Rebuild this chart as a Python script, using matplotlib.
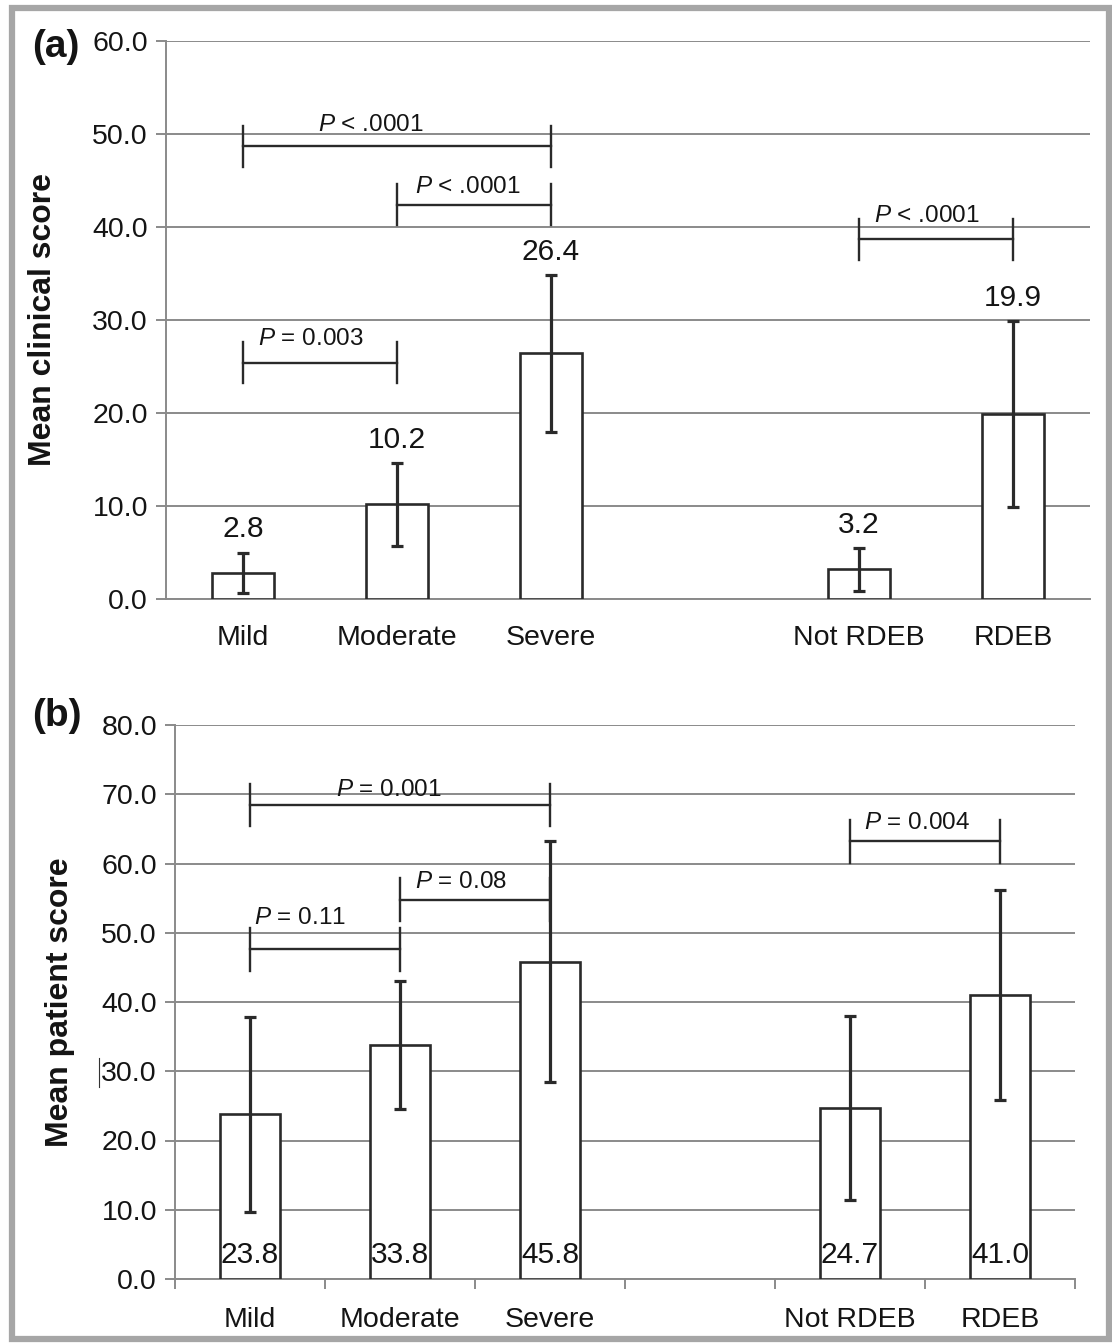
import matplotlib
matplotlib.use("Agg")
import matplotlib.pyplot as plt
from matplotlib.patches import Rectangle
from matplotlib.lines import Line2D

plt.rcParams['font.family'] = ['Liberation Sans', 'DejaVu Sans']
plt.rcParams['mathtext.fontset'] = 'custom'
plt.rcParams['mathtext.it'] = 'Liberation Sans:italic'
plt.rcParams['mathtext.rm'] = 'Liberation Sans'

# categories (slot 3 is an empty gap)
groups = ['Mild', 'Moderate', 'Severe', 'Not RDEB', 'RDEB']
slots = [0, 1, 2, 4, 5]

# (a) clinical score
clinical_means = [2.8, 10.2, 26.4, 3.2, 19.9]
clinical_err = [2.2, 4.45, 8.45, 2.3, 10.0]
clinical_pairs = [(0, 2), (1, 2), (0, 1), (3, 4)]
clinical_levels = [48.7, 42.4, 25.4, 38.7]
clinical_pvals = ['$P$ < .0001', '$P$ < .0001', '$P$ = 0.003', '$P$ < .0001']

# (b) patient score
patient_means = [23.8, 33.8, 45.8, 24.7, 41.0]
patient_err = [14.1, 9.2, 17.4, 13.3, 15.2]
patient_pairs = [(0, 2), (1, 2), (0, 1), (3, 4)]
patient_levels = [68.45, 54.8, 47.6, 63.2]
patient_pvals = ['$P$ = 0.001', '$P$ = 0.08', '$P$ = 0.11', '$P$ = 0.004']

DARK = '#2a2a2a'
GRID = '#8a8a8a'
W, H = 1112, 1343


def style_axes(ax, ymax, xticks_marks, xpad):
    ax.set_xlim(-0.5, 5.5)
    ax.set_ylim(0, ymax)
    ax.set_yticks(range(0, ymax + 1, 10))
    ax.set_yticklabels(['%.1f' % v for v in range(0, ymax + 1, 10)])
    ax.set_axisbelow(True)
    ax.yaxis.grid(True, color=GRID, lw=1.4)
    for s in ['top', 'right']:
        ax.spines[s].set_visible(False)
    ax.spines['left'].set_color(GRID)
    ax.spines['bottom'].set_color(GRID)
    ax.spines['left'].set_linewidth(1.4)
    ax.spines['bottom'].set_linewidth(1.4)
    ax.tick_params(axis='y', length=7, width=1.4, color=GRID, labelsize=20.5,
                   pad=6, labelcolor='#141414')
    ax.set_xticks(slots)
    ax.set_xticklabels(groups)
    ax.tick_params(axis='x', length=0, labelsize=20.5, pad=xpad, labelcolor='#141414')
    if xticks_marks:
        ax.set_xticks([-0.5 + i for i in range(7)], minor=True)
        ax.tick_params(axis='x', which='minor', length=7, width=1.4, color=GRID)


def draw_bars(ax, means, errs):
    ax.bar(slots, means, width=0.4, color='white', edgecolor=DARK, linewidth=1.9, zorder=3)
    ax.errorbar(slots, means, yerr=errs, fmt='none', ecolor=DARK, elinewidth=2.3,
                capsize=4.5, capthick=2.3, zorder=4)


def draw_brackets(ax, pairs, levels, pvals, half, dx, dy):
    for (i, j), lev, txt, ox, oy in zip(pairs, levels, pvals, dx, dy):
        x0, x1 = slots[i], slots[j]
        ax.plot([x0, x1], [lev, lev], color=DARK, lw=1.7, zorder=5)
        ax.plot([x0, x0], [lev - half, lev + half], color=DARK, lw=1.7, zorder=5)
        ax.plot([x1, x1], [lev - half, lev + half], color=DARK, lw=1.7, zorder=5)
        ax.text(x0 + ox, lev + oy, txt, fontsize=17.5, ha='left', va='center',
                color='#141414', zorder=6)


fig = plt.figure(figsize=(W / 100, H / 100), dpi=100)

# panel (a)
ax1 = fig.add_axes([166 / W, 1 - 599 / H, 924 / W, 558 / H])
style_axes(ax1, 60, False, 19)
draw_bars(ax1, clinical_means, clinical_err)
for x, m, e in zip(slots, clinical_means, clinical_err):
    ax1.text(x, m + e + 2.5, '%.1f' % m, ha='center', va='center', fontsize=21.5,
             color='#141414')
draw_brackets(ax1, clinical_pairs, clinical_levels, clinical_pvals, 2.2,
              [0.49, 0.12, 0.1, 0.1], [2.3, 1.9, 2.6, 2.5])
ax1.set_ylabel('Mean clinical score', fontsize=23, fontweight='bold', color='#141414')
ax1.yaxis.set_label_coords(-0.117, 0.5)

# panel (b)
ax2 = fig.add_axes([175 / W, 1 - 1279 / H, 900 / W, 554 / H])
style_axes(ax2, 80, True, 20)
draw_bars(ax2, patient_means, patient_err)
for x, m in zip(slots, patient_means):
    ax2.text(x, 3.5, '%.1f' % m, ha='center', va='center', fontsize=21.5,
             color='#141414', zorder=6)
draw_brackets(ax2, patient_pairs, patient_levels, patient_pvals, 3.1,
              [0.57, 0.1, 0.03, 0.09], [2.1, 2.5, 4.5, 2.7])
ax2.set_ylabel('Mean patient score', fontsize=23, fontweight='bold', color='#141414')
ax2.yaxis.set_label_coords(-0.111, 0.5)

# panel letters
fig.text(32 / W, 1 - 47 / H, '(a)', fontsize=28, fontweight='bold', va='center', ha='left',
         color='#141414')
fig.text(32 / W, 1 - 716 / H, '(b)', fontsize=28, fontweight='bold', va='center', ha='left',
         color='#141414')

# stray cursor mark before 30.0 in panel (b)
fig.add_artist(Line2D([99 / W, 99 / W], [1 - 1058 / H, 1 - 1087 / H], color='#333333', lw=0.8))

# outer frame
fig.add_artist(Rectangle((12 / W, 1 - 1339 / H), 1097 / W, 1331 / H, fill=False,
                         edgecolor='#a6a6a6', lw=4.5, transform=fig.transFigure))

fig.savefig('out.png', dpi=100)
